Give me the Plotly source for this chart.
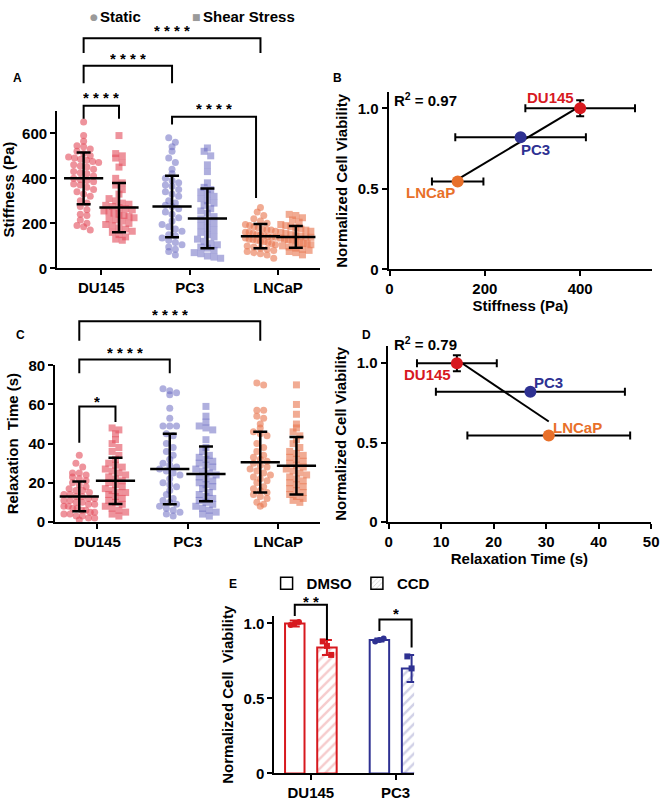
import numpy as np
import plotly.graph_objects as go

W, H = 669, 804
FONT = "Liberation Sans, Arial, sans-serif"

lines = ["DU145", "PC3", "LNCaP"]
line_colors = ["#d7191f", "#2e3192", "#e8702a"]
point_colors = ["rgba(228,80,95,0.62)", "rgba(110,110,195,0.55)", "rgba(232,120,80,0.62)"]

# Panel A - stiffness (Pa)
stiff_static = [
    [650, 590, 565, 545, 540, 530, 520, 510, 500, 495, 490, 485, 480, 475, 470, 460, 455, 450,
     440, 430, 425, 420, 410, 400, 395, 390, 385, 375, 370, 360, 350, 340, 330, 320, 300, 290,
     275, 260, 240, 235, 215, 200, 190, 185, 170],
    [580, 560, 540, 520, 490, 470, 440, 420, 400, 390, 380, 370, 365, 350, 340, 330, 320, 300,
     290, 280, 275, 265, 250, 240, 225, 210, 195, 185, 175, 165, 150, 145, 135, 125, 115, 105,
     95, 85, 75, 60],
    [270, 250, 235, 220, 210, 200, 195, 190, 185, 180, 175, 172, 170, 165, 160, 160, 155, 150,
     148, 145, 142, 140, 138, 135, 130, 128, 125, 120, 118, 115, 110, 105, 100, 95, 90, 85, 80,
     75, 70, 65, 60, 45],
]
stiff_shear = [
    [590, 510, 500, 490, 470, 450, 400, 380, 370, 350, 330, 310, 300, 290, 285, 280, 275, 270,
     265, 260, 255, 250, 245, 240, 235, 230, 225, 220, 215, 210, 200, 195, 190, 180, 175, 165,
     160, 150, 140, 130, 125],
    [535, 520, 500, 460, 430, 380, 360, 350, 340, 330, 320, 310, 300, 290, 280, 265, 255, 245,
     230, 220, 210, 200, 190, 180, 170, 160, 150, 140, 130, 120, 110, 105, 95, 90, 80, 70, 65,
     55, 50, 45],
    [240, 235, 225, 215, 205, 195, 190, 185, 180, 175, 170, 165, 160, 155, 150, 145, 142, 140,
     138, 135, 130, 128, 125, 120, 115, 112, 110, 105, 100, 95, 90, 85, 80, 75, 70, 60],
]
stiff_mean_static = [400, 275, 143]
stiff_sd_static = [115, 137, 54]
stiff_mean_shear = [270, 222, 140]
stiff_sd_shear = [109, 133, 48]

# Panel C - relaxation time (s)
relax_static = [
    [34, 30, 28, 25, 25, 24, 23, 22, 21, 20, 19, 18, 17, 16, 16, 15, 14, 14, 13, 13, 12, 12,
     11, 11, 10, 10, 9, 9, 8, 8, 7, 7, 6, 6, 5, 5, 4, 4, 3, 3, 2, 2, 1],
    [68, 67, 66, 65, 58, 53, 49, 49, 49, 45, 44, 40, 38, 36, 34, 32, 30, 29, 28, 27, 26, 25,
     24, 22, 20, 19, 18, 16, 14, 12, 11, 10, 9, 8, 7, 6, 5, 4, 3],
    [71, 70, 57, 57, 54, 53, 50, 48, 46, 45, 44, 40, 38, 36, 34, 33, 32, 31, 30, 29, 28, 27,
     26, 25, 24, 23, 22, 21, 20, 18, 17, 16, 15, 14, 13, 12, 10, 9, 8],
]
relax_shear = [
    [48, 47, 45, 42, 40, 38, 36, 34, 32, 30, 29, 28, 27, 26, 25, 24, 23, 22, 21, 20, 19, 18,
     17, 16, 15, 15, 14, 13, 12, 11, 10, 9, 8, 7, 6, 5, 4, 3],
    [59, 54, 51, 49, 48, 47, 42, 38, 36, 34, 33, 32, 31, 30, 29, 28, 27, 26, 25, 24, 23, 22,
     21, 20, 19, 18, 17, 15, 14, 13, 12, 11, 10, 9, 8, 7, 6, 5, 4, 3],
    [70, 60, 55, 50, 48, 46, 44, 42, 40, 38, 36, 35, 34, 33, 32, 31, 30, 29, 28, 27, 26, 25,
     24, 23, 22, 21, 20, 19, 18, 17, 16, 15, 14, 13, 12, 11, 10],
]
relax_mean_static = [13, 27, 30.5]
relax_sd_static = [7.6, 18, 15.5]
relax_mean_shear = [21, 24.5, 28.7]
relax_sd_shear = [11.8, 14, 14.7]

# Panels B / D - viability
viability = [1.0, 0.82, 0.545]
viability_sd = [0.05, 0.01, 0.01]

# Panel E
e_lines = ["DU145", "PC3"]
dmso_mean = [1.0, 0.89]
dmso_sd = [0.02, 0.01]
ccd_mean = [0.84, 0.70]
ccd_sd = [0.05, 0.09]
dmso_points = [[0.99, 1.0, 1.01], [0.88, 0.89, 0.90]]
ccd_points = [[0.88, 0.85, 0.79], [0.78, 0.70, 0.62]]
ccd_hatch = ["rgba(215,25,31,0.45)", "rgba(46,49,146,0.45)"]

cat_pos = [1, 2, 3]
SUB = 0.2


def spread(values, center, bin_size, step=0.075):
    # simple column-scatter layout: points in the same value bin are spread sideways
    vals = np.asarray(values, dtype=float)
    bins = np.round(vals / bin_size).astype(int)
    xs = np.empty_like(vals)
    for b in np.unique(bins):
        idx = np.where(bins == b)[0]
        n = len(idx)
        s = step if n < 2 else min(step, 0.34 / (n - 1))
        xs[idx] = center + (np.arange(n) - (n - 1) / 2) * s
    return xs


fig = go.Figure()


def add_column_panel(ax, static, shear, m_st, sd_st, m_sh, sd_sh, bin_size):
    xa, ya = "x" + ax, "y" + ax
    for i in range(3):
        for vals, off, sym in [(static[i], -SUB, "circle"), (shear[i], SUB, "square")]:
            fig.add_trace(go.Scatter(
                x=spread(vals, cat_pos[i] + off, bin_size), y=vals, mode="markers",
                marker=dict(color=point_colors[i], size=7, symbol=sym, line=dict(width=0)),
                xaxis=xa, yaxis=ya, showlegend=False, cliponaxis=False))
    xs = [p - SUB for p in cat_pos] + [p + SUB for p in cat_pos]
    fig.add_trace(go.Scatter(
        x=xs, y=m_st + m_sh, mode="markers",
        marker=dict(symbol="line-ew", size=28, line=dict(color="black", width=2.5)),
        error_y=dict(type="data", array=sd_st + sd_sh, color="black", thickness=2.5, width=7),
        xaxis=xa, yaxis=ya, showlegend=False, cliponaxis=False))


add_column_panel("", stiff_static, stiff_shear, stiff_mean_static, stiff_sd_static,
                 stiff_mean_shear, stiff_sd_shear, 30)
add_column_panel("3", relax_static, relax_shear, relax_mean_static, relax_sd_static,
                 relax_mean_shear, relax_sd_shear, 3.2)


def add_corr_panel(ax, xvals, xerr, label_shift):
    xa, ya = "x" + ax, "y" + ax
    slope, icpt = np.polyfit(xvals, viability, 1)
    xl = np.array([min(xvals), max(xvals)])
    fig.add_trace(go.Scatter(x=xl, y=slope * xl + icpt, mode="lines",
                             line=dict(color="black", width=2), xaxis=xa, yaxis=ya,
                             showlegend=False))
    fig.add_trace(go.Scatter(
        x=xvals, y=viability, mode="markers",
        marker=dict(color=line_colors, size=12),
        error_x=dict(type="data", array=xerr, color="black", thickness=2, width=4),
        error_y=dict(type="data", array=viability_sd, color="black", thickness=2, width=4),
        xaxis=xa, yaxis=ya, showlegend=False, cliponaxis=False))
    for i, name in enumerate(lines):
        fig.add_annotation(x=xvals[i], y=viability[i], xref=xa, yref=ya, text=name,
                           showarrow=False, xshift=label_shift[i][0], yshift=label_shift[i][1],
                           font=dict(family=FONT, size=15, color=line_colors[i], weight="bold"))


add_corr_panel("2", stiff_mean_static, stiff_sd_static, [(-30, 11), (15, -12), (-27, -11)])
add_corr_panel("4", relax_mean_static, relax_sd_static, [(-29, -11), (18, 9), (29, 8)])

# Panel E bars
e_pos = [1, 2]
E_OFF = 0.19
for i in range(2):
    c = line_colors[i]
    fig.add_trace(go.Bar(
        x=[e_pos[i] - E_OFF], y=[dmso_mean[i]], width=0.23,
        marker=dict(color="white", line=dict(color=c, width=2)),
        error_y=dict(type="data", array=[dmso_sd[i]], color=c, thickness=2, width=5),
        xaxis="x5", yaxis="y5", showlegend=False))
    fig.add_trace(go.Bar(
        x=[e_pos[i] + E_OFF], y=[ccd_mean[i]], width=0.23,
        marker=dict(color="white", line=dict(color=c, width=2),
                    pattern=dict(shape="/", fgcolor=ccd_hatch[i], bgcolor="white", size=7,
                                 solidity=0.35)),
        error_y=dict(type="data", array=[ccd_sd[i]], color=c, thickness=2, width=5),
        xaxis="x5", yaxis="y5", showlegend=False))
    for pts, off, sym in [(dmso_points[i], -E_OFF, "circle"), (ccd_points[i], E_OFF, "square")]:
        fig.add_trace(go.Scatter(
            x=[e_pos[i] + off + d for d in (-0.05, 0, 0.05)], y=pts, mode="markers",
            marker=dict(color=c, size=6, symbol=sym), xaxis="x5", yaxis="y5",
            showlegend=False, cliponaxis=False))

# legend for panel E
fig.add_trace(go.Bar(x=[None], y=[None], name="DMSO", xaxis="x5", yaxis="y5",
                     marker=dict(color="white", line=dict(color="black", width=1.5))))
fig.add_trace(go.Bar(x=[None], y=[None], name="CCD", xaxis="x5", yaxis="y5",
                     marker=dict(color="white", line=dict(color="black", width=1.5),
                                 pattern=dict(shape="/", fgcolor="#888888", size=4))))


def bracket(ax, ymax, x0, x1, ytop, yl, yr, label, ytext):
    xr, yref = "x" + ax, "y" + ax + " domain"
    fig.add_shape(type="path", xref=xr, yref=yref,
                  path=f"M {x0},{yl / ymax} L {x0},{ytop / ymax} L {x1},{ytop / ymax} L {x1},{yr / ymax}",
                  line=dict(color="black", width=2))
    fig.add_annotation(x=(x0 + x1) / 2, y=ytext / ymax, xref=xr, yref=yref, text=label,
                       showarrow=False, yanchor="middle", height=12, borderpad=0,
                       font=dict(family=FONT, size=15, color="black", weight="bold"))


stars4 = "* * * *"
bracket("", 700, 0.8, 2.8, 1022, 957, 957, stars4, 1060)
bracket("", 700, 0.8, 1.8, 900, 822, 822, stars4, 935)
bracket("", 700, 0.8, 1.2, 722, 665, 665, stars4, 760)
bracket("", 700, 1.8, 2.75, 674, 639, 313, stars4, 712)
bracket("3", 80, 0.8, 2.8, 102.5, 92.5, 92.5, stars4, 106)
bracket("3", 80, 0.8, 1.8, 83, 76, 76, stars4, 87)
bracket("3", 80, 0.8, 1.2, 59, 40.5, 51, "*", 62)
bracket("5", 1.05, 1 - E_OFF, 1 + E_OFF, 1.124, 1.05, 0.89, "* *", 1.15)
bracket("5", 1.05, 2 - E_OFF, 2 + E_OFF, 1.026, 0.95, 0.84, "*", 1.07)


def px(x):
    return x / W


def py(y):
    return 1 - y / H


bold15 = dict(family=FONT, size=15, color="black", weight="bold")

for txt, x, y in [("A", 8, 71), ("B", 340, 71), ("C", 11, 333), ("D", 370, 333), ("E", 234, 587)]:
    fig.add_annotation(x=px(x), y=py(y), xref="paper", yref="paper", text=txt, showarrow=False,
                       yanchor="middle", font=dict(family=FONT, size=12, color="black", weight="bold"))
for txt, x, y in [("R<sup>2</sup> = 0.97", 430, 92), ("R<sup>2</sup> = 0.79", 430, 342)]:
    fig.add_annotation(x=px(x), y=py(y), xref="paper", yref="paper", text=txt, showarrow=False,
                       yanchor="middle", font=bold15)

# top key: Static / Shear Stress
for glyph, gx, txt, tx in [("\u25cf", 86, "Static", 97), ("\u25a0", 190, "Shear Stress", 201)]:
    fig.add_annotation(x=px(gx), y=py(8), xref="paper", yref="paper", text=glyph,
                       showarrow=False, yanchor="middle",
                       font=dict(family="DejaVu Sans", size=9, color="#9a9a9a"))
    fig.add_annotation(x=px(tx), y=py(8), xref="paper", yref="paper", text=txt, xanchor="left",
                       yanchor="middle", showarrow=False, font=bold15)

tick_font = dict(family=FONT, size=15, color="black", weight="bold")
base = dict(showline=True, linewidth=2, linecolor="black", ticks="outside", tickwidth=2,
            ticklen=5, tickcolor="black", showgrid=False, zeroline=False, tickfont=tick_font,
            fixedrange=True, ticklabeloverflow="allow")


def yt(text, standoff=6):
    return dict(text=text, font=bold15, standoff=standoff)


fig.update_layout(
    width=W, height=H, margin=dict(l=0, r=0, t=0, b=0),
    paper_bgcolor="white", plot_bgcolor="white", barmode="overlay",
    font=dict(family=FONT, color="black"),
    xaxis=dict(base, domain=[px(55), px(322)], range=[0.5, 3.47], anchor="y",
               tickvals=cat_pos, ticktext=lines),
    yaxis=dict(base, domain=[py(265), py(104)], range=[0, 700], anchor="x",
               tickvals=[0, 200, 400, 600], title=yt("Stiffness (Pa)")),
    xaxis2=dict(base, domain=[px(392), px(660)], range=[-2, 551], anchor="y2",
                tickvals=[0, 200, 400], title=yt("Stiffness (Pa)", 2)),
    yaxis2=dict(base, domain=[py(266), py(85)], range=[0, 1.10], anchor="x2",
                tickvals=[0, 0.5, 1.0], ticktext=["0", "0.5", "1.0"],
                title=yt("Normalized Cell Viability")),
    xaxis3=dict(base, domain=[px(53), px(322)], range=[0.533, 3.457], anchor="y3",
                tickvals=cat_pos, ticktext=lines),
    yaxis3=dict(base, domain=[py(524), py(364)], range=[0, 80], anchor="x3",
                tickvals=[0, 20, 40, 60, 80], title=yt("Relaxation  Time (s)")),
    xaxis4=dict(base, domain=[px(391), px(659)], range=[-0.2, 50], anchor="y4",
                tickvals=[0, 10, 20, 30, 40, 50], title=yt("Relaxation Time (s)", 2)),
    yaxis4=dict(base, domain=[py(524), py(344)], range=[0, 1.11], anchor="x4",
                tickvals=[0, 0.5, 1.0], ticktext=["0", "0.5", "1.0"],
                title=yt("Normalized Cell Viability")),
    xaxis5=dict(base, domain=[px(276), px(418)], range=[0.57, 2.22], anchor="y5",
                tickvals=e_pos, ticktext=e_lines),
    yaxis5=dict(base, domain=[py(781), py(620)], range=[0, 1.05], anchor="x5",
                tickvals=[0, 0.5, 1.0], ticktext=["0", "0.5", "1.0"],
                title=yt("Normalized Cell  Viability")),
    showlegend=True,
    legend=dict(orientation="h", x=px(268), y=py(570), xanchor="left", yanchor="top",
                bgcolor="rgba(0,0,0,0)", font=bold15),
)

fig.write_html("out.html", config={"displayModeBar": False},
               post_script="document.body.style.margin='0px';")
